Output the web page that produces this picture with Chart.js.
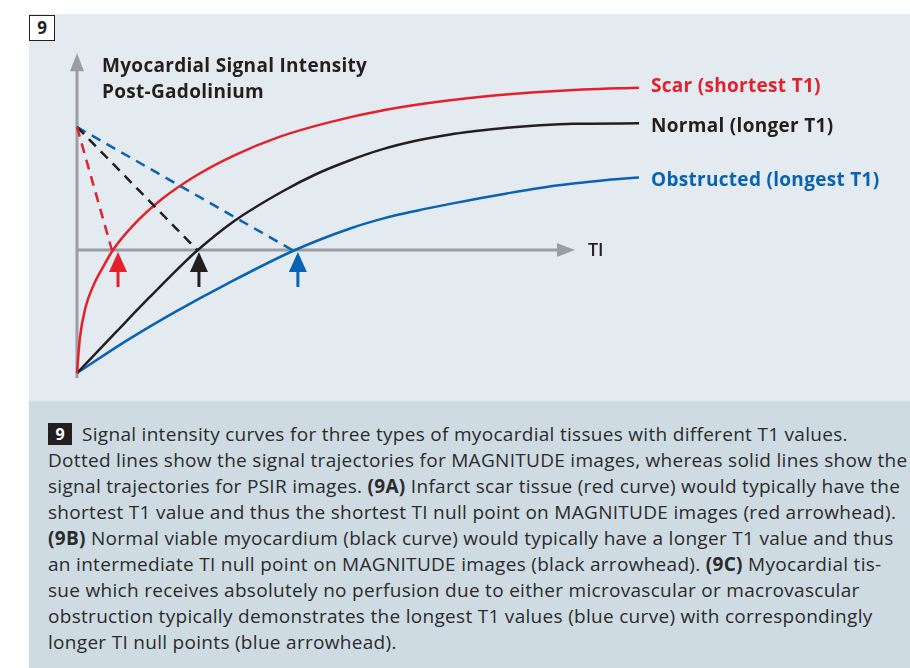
<!DOCTYPE html>
<html>
<head>
<meta charset="utf-8">
<script src="https://cdn.jsdelivr.net/npm/chart.js@4.4.1/dist/chart.umd.min.js"></script>
<style>
  body { margin: 0; background: #fff; width: 910px; height: 668px; overflow: hidden; position: relative; font-family: "Open Sans", sans-serif; }
  #panel { position: absolute; left: 29px; top: 14px; width: 881px; height: 387px; background: #e3eaf0; }
  #badge { position: absolute; left: 0; top: 1px; width: 24px; height: 24px; border: 1.5px solid #231f20; background: #fff;
           font: 700 17px "Open Sans", sans-serif; color: #231f20; text-align: center; line-height: 24px; }
  #caption { position: absolute; left: 29px; top: 401px; width: 881px; height: 267px; background: #cfdbe3;
             box-sizing: border-box; padding: 20px 0 0 19px; font-size: 19px; letter-spacing: 0.3px; line-height: 26px;
             color: #2b2b2b; white-space: nowrap; overflow: hidden; }
  #caption b { font-weight: 700; }
  .num { display: inline-block; background: #231f20; color: #fff; font-weight: 700; font-size: 16px; line-height: 22px;
         width: 24px; letter-spacing: 0; text-align: center; margin-right: 10px; vertical-align: 1px; }
</style>
</head>
<body>
<div id="panel">
  <canvas id="sigChart" width="881" height="387"></canvas>
  <div id="badge">9</div>
</div>
<div id="caption">
  <span class="num">9</span>Signal intensity curves for three types of myocardial tissues with different T1 values.<br>
  Dotted lines show the signal trajectories for MAGNITUDE images, whereas solid lines show the<br>
  signal trajectories for PSIR images. <b>(9A)</b> Infarct scar tissue (red curve) would typically have the<br>
  shortest T1 value and thus the shortest TI null point on MAGNITUDE images (red arrowhead).<br>
  <b>(9B)</b> Normal viable myocardium (black curve) would typically have a longer T1 value and thus<br>
  an intermediate TI null point on MAGNITUDE images (black arrowhead). <b>(9C)</b> Myocardial tis-<br>
  sue which receives absolutely no perfusion due to either microvascular or macrovascular<br>
  obstruction typically demonstrates the longest T1 values (blue curve) with correspondingly<br>
  longer TI null points (blue arrowhead).
</div>
<script>
// PSIR curves (solid)
var scarX   = [0, 0.5, 1.5, 3, 4.5, 6.4, 10, 15, 21, 28, 36, 45, 55, 66, 78, 90, 100];
var scarY   = [-100, -72, -47, -28, -15, 0, 20, 41, 60, 77, 92, 104, 114, 121.5, 127, 130.5, 132];
var normalX = [0, 7.1, 13, 18.9, 21.5, 27.8, 36.7, 42.7, 48.6, 54.4, 60.5, 66.4, 70.5, 76.5, 82.4, 88.3, 100];
var normalY = [-100, -66, -38, -11, 0, 23, 48, 62, 73, 82, 89, 94, 96.5, 99.5, 101.5, 102.7, 103];
var obstrX  = [0, 8.9, 17.8, 26.7, 38.8, 48.6, 54.4, 60.5, 66.4, 70.5, 76.5, 82.4, 88.3, 94.3, 100];
var obstrY  = [-100, -73.5, -49.5, -27.5, 0, 17.5, 25.5, 32, 37.5, 41, 46, 50.5, 54, 57, 59];

// MAGNITUDE trajectories (dashed): start value and null point
var magStartY = 100;
var magNullX  = [6.2, 21.4, 38.3];
// arrowheads marking the TI null points
var arrowX    = [7.3, 21.7, 39.3];

var labels = ['Scar (shortest T1)', 'Normal (longer T1)', 'Obstructed (longest T1)'];
var colors = ['#e3212b', '#231f20', '#0863b2'];
var labelDy = [-1, 3, 3];

function pts(xs, ys) {
  return xs.map(function (x, i) { return { x: x, y: ys[i] }; });
}

var solid = [pts(scarX, scarY), pts(normalX, normalY), pts(obstrX, obstrY)];

var datasets = [];
magNullX.forEach(function (nx, i) {
  datasets.push({
    label: labels[i] + ' magnitude',
    data: [{ x: 0, y: magStartY }, { x: nx, y: 0 }],
    borderColor: colors[i],
    borderWidth: 2.5,
    borderDash: [10, 7],
    pointRadius: 0,
    clip: false
  });
});
solid.forEach(function (d, i) {
  datasets.push({
    label: labels[i],
    data: d,
    borderColor: colors[i],
    borderWidth: 2.5,
    pointRadius: 0,
    cubicInterpolationMode: 'monotone',
    clip: false,
    labelIdx: i
  });
});

var axisGray = '#9a9ea2';

var drawing = {
  id: 'drawing',
  beforeDatasetsDraw: function (chart) {
    var ctx = chart.ctx, xs = chart.scales.x, ys = chart.scales.y;
    var x0 = xs.getPixelForValue(0), y0 = ys.getPixelForValue(0);
    var yBot = ys.getPixelForValue(-100) + 5;
    var yTop = ys.getPixelForValue(160);
    var xEnd = xs.getPixelForValue(88.6);
    ctx.save();
    ctx.strokeStyle = axisGray;
    ctx.fillStyle = axisGray;
    ctx.lineWidth = 3;
    // y axis
    ctx.beginPath();
    ctx.moveTo(x0, yBot);
    ctx.lineTo(x0, yTop + 16);
    ctx.stroke();
    ctx.beginPath();
    ctx.moveTo(x0, yTop);
    ctx.lineTo(x0 - 7, yTop + 18);
    ctx.lineTo(x0 + 7, yTop + 18);
    ctx.closePath();
    ctx.fill();
    // x axis
    ctx.beginPath();
    ctx.moveTo(x0, y0);
    ctx.lineTo(xEnd - 16, y0);
    ctx.stroke();
    ctx.beginPath();
    ctx.moveTo(xEnd, y0);
    ctx.lineTo(xEnd - 18, y0 - 7);
    ctx.lineTo(xEnd - 18, y0 + 7);
    ctx.closePath();
    ctx.fill();
    // axis texts
    ctx.fillStyle = '#231f20';
    ctx.textBaseline = 'middle';
    ctx.font = '600 18px "Open Sans"';
    ctx.fillText('TI', xEnd + 13, y0 + 1);
    ctx.font = '700 19px "Open Sans"';
    ctx.letterSpacing = '0.3px';
    ctx.fillText('Myocardial Signal Intensity', x0 + 25, ys.getPixelForValue(151) + 2);
    ctx.fillText('Post-Gadolinium', x0 + 25, ys.getPixelForValue(130) + 2);
    ctx.restore();
  },
  afterDatasetsDraw: function (chart) {
    var ctx = chart.ctx, xs = chart.scales.x, ys = chart.scales.y;
    var y0 = ys.getPixelForValue(0);
    ctx.save();
    // null point arrowheads
    arrowX.forEach(function (ax, i) {
      var px = xs.getPixelForValue(ax);
      ctx.fillStyle = colors[i];
      ctx.strokeStyle = colors[i];
      ctx.beginPath();
      ctx.moveTo(px, y0 + 2);
      ctx.lineTo(px - 9, y0 + 22);
      ctx.lineTo(px + 9, y0 + 22);
      ctx.closePath();
      ctx.fill();
      ctx.lineWidth = 3;
      ctx.beginPath();
      ctx.moveTo(px, y0 + 20);
      ctx.lineTo(px, y0 + 37);
      ctx.stroke();
    });
    // curve end labels
    ctx.font = '700 19px "Open Sans"';
    ctx.letterSpacing = '0.3px';
    ctx.textBaseline = 'middle';
    chart.data.datasets.forEach(function (ds) {
      if (ds.labelIdx === undefined) return;
      var last = ds.data[ds.data.length - 1];
      ctx.fillStyle = ds.borderColor;
      ctx.fillText(ds.label, xs.getPixelForValue(last.x) + 12, ys.getPixelForValue(last.y) + labelDy[ds.labelIdx]);
    });
    ctx.restore();
  }
};

var chart = new Chart(document.getElementById('sigChart'), {
  type: 'line',
  data: { datasets: datasets },
  options: {
    responsive: false,
    animation: false,
    devicePixelRatio: 1,
    layout: { padding: { left: 48, right: 271, top: 38, bottom: 28 } },
    scales: {
      x: { type: 'linear', min: 0, max: 100, display: false },
      y: { min: -100, max: 161, display: false }
    },
    plugins: { legend: { display: false }, tooltip: { enabled: false } }
  },
  plugins: [drawing]
});
</script>
</body>
</html>
